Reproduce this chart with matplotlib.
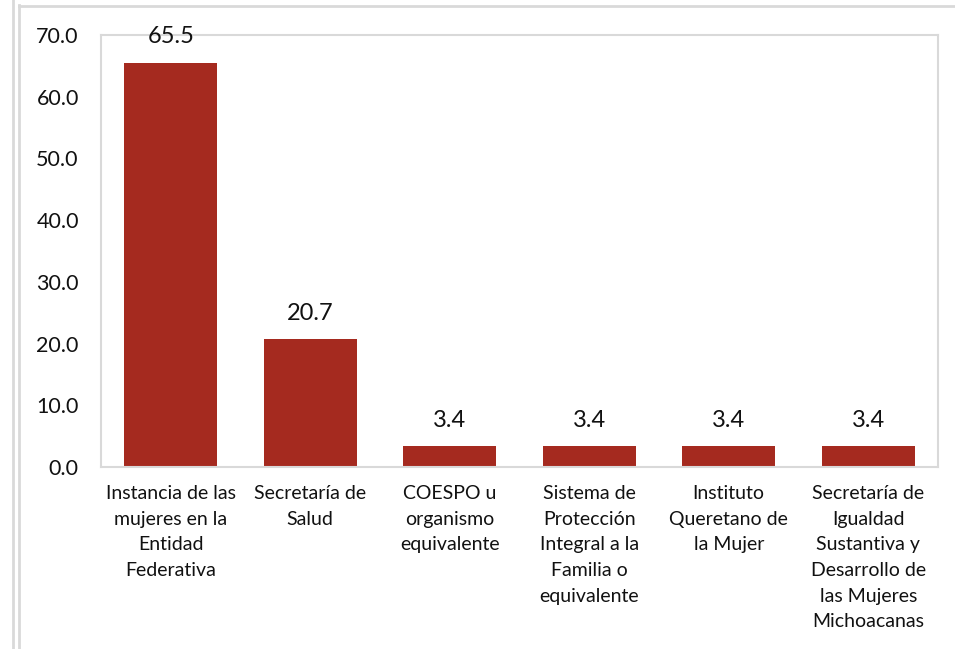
import matplotlib
matplotlib.use("Agg")
from matplotlib import pyplot as plt
from matplotlib.lines import Line2D

categories = [
    "Instancia de las\nmujeres en la\nEntidad\nFederativa",
    "Secretaría de\nSalud",
    "COESPO u\norganismo\nequivalente",
    "Sistema de\nProtección\nIntegral a la\nFamilia o\nequivalente",
    "Instituto\nQueretano de\nla Mujer",
    "Secretaría de\nIgualdad\nSustantiva y\nDesarrollo de\nlas Mujeres\nMichoacanas",
]
values = [65.5, 20.7, 3.4, 3.4, 3.4, 3.4]
yticks = [0, 10, 20, 30, 40, 50, 60, 70]

plt.rcParams['font.family'] = ['Lato', 'DejaVu Sans']

W, H = 955, 649
fig = plt.figure(figsize=(W / 100, H / 100), dpi=100)
ax = fig.add_axes([101 / W, 1 - 467 / H, (938 - 101) / W, (467 - 35) / H])

# outer frame lines from the source document
grey = '#D9D9D9'
fig.add_artist(Line2D([12.5 / W, 12.5 / W], [0, 1], color=grey, lw=2, transform=fig.transFigure))
fig.add_artist(Line2D([18.5 / W, 18.5 / W], [0, 1 - 5 / H], color=grey, lw=2, transform=fig.transFigure))
fig.add_artist(Line2D([18.5 / W, 1], [1 - 5.5 / H, 1 - 5.5 / H], color=grey, lw=2, transform=fig.transFigure))

x = list(range(len(values)))
ax.bar(x, values, width=0.667, color='#A52A1F')
for xi, v in zip(x, values):
    ax.annotate('{:.1f}'.format(v), (xi, v), xytext=(0, 14), textcoords='offset points',
                ha='center', va='baseline', fontsize=17, color='#111111')

ax.set_xlim(-0.5, len(values) - 0.5)
ax.set_ylim(0, 70)
ax.set_yticks(yticks)
ax.set_yticklabels(['{:.1f}'.format(t) for t in yticks], fontsize=15.5, color='#111111')
ax.set_xticks(x)
ax.set_xticklabels(categories, fontsize=14, linespacing=1.62, va='top', color='#111111')
ax.tick_params(length=0)
ax.tick_params(axis='y', pad=16)
ax.tick_params(axis='x', pad=13)
for s in ax.spines.values():
    s.set_color(grey)
    s.set_linewidth(1.5)

fig.savefig('out.png', dpi=100)
